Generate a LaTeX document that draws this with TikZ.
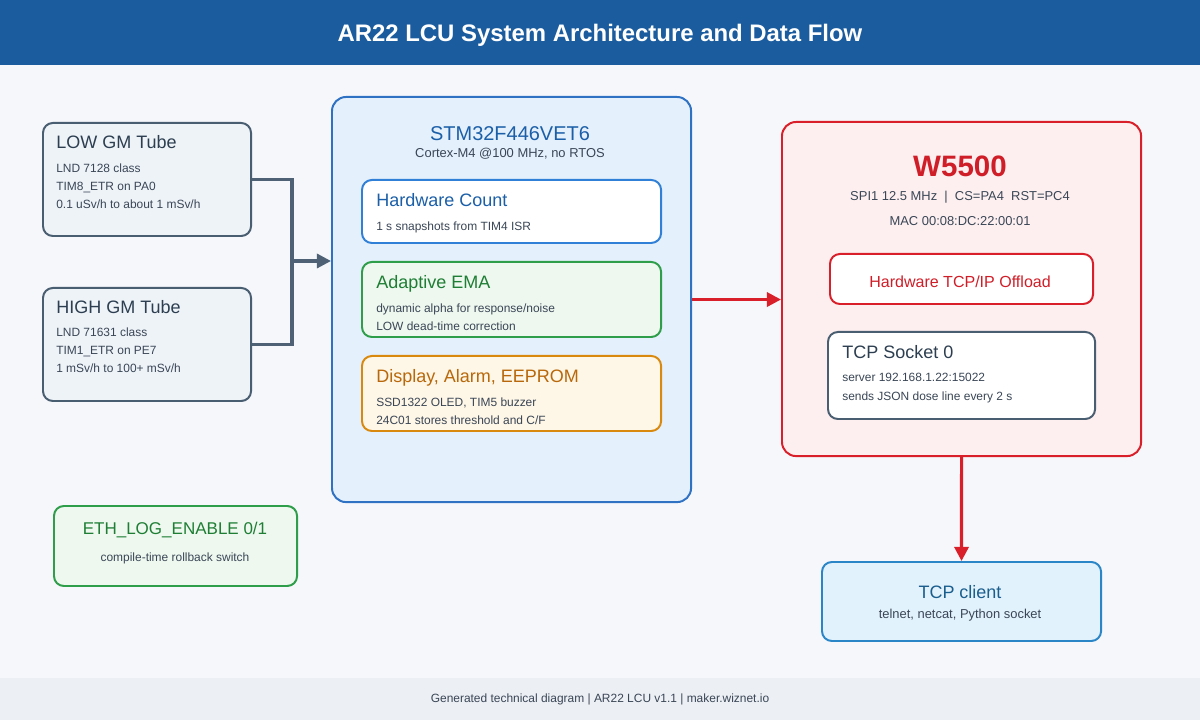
\documentclass[tikz,border=0pt]{standalone}
\usepackage{fontspec}
\setmainfont{Liberation Sans}
\usetikzlibrary{arrows.meta}

\definecolor{pagebg}{HTML}{F5F7FB}
\definecolor{barblue}{HTML}{1A5C9E}
\definecolor{footbg}{HTML}{ECEFF4}
\definecolor{ink}{HTML}{3A4656}
\definecolor{slate}{HTML}{4A5E72}
\definecolor{slatefill}{HTML}{EEF3F8}
\definecolor{slatetext}{HTML}{2C3E50}
\definecolor{wire}{HTML}{4F6275}
\definecolor{mcublue}{HTML}{2F72C4}
\definecolor{mcufill}{HTML}{E4F0FC}
\definecolor{mcutext}{HTML}{1B5FA8}
\definecolor{hwblue}{HTML}{2F80D6}
\definecolor{emagreen}{HTML}{2E9E4A}
\definecolor{emafill}{HTML}{EEF8EF}
\definecolor{ematext}{HTML}{1E7E34}
\definecolor{disporange}{HTML}{D98A0E}
\definecolor{dispfill}{HTML}{FEF6E6}
\definecolor{disptext}{HTML}{B8680A}
\definecolor{wizred}{HTML}{D9202A}
\definecolor{wizfill}{HTML}{FDEFEF}
\definecolor{wiztext}{HTML}{D01E28}
\definecolor{clientblue}{HTML}{2B86C8}
\definecolor{clientfill}{HTML}{E2F2FC}
\definecolor{clienttext}{HTML}{1A5E8E}

\begin{document}
\begin{tikzpicture}
  [x=0.025cm, y=-0.025cm,
   box/.style = {draw, line width=1.4pt, rounded corners=7pt, anchor=north west, inner sep=0pt},
   bigbox/.style = {box, rounded corners=10pt},
   head/.style = {font=\fontsize{12.8}{15}\selectfont, inner sep=0pt, anchor=mid west},
   body/.style = {font=\fontsize{8.5}{10}\selectfont, text=ink, inner sep=0pt, anchor=mid west},
   feed/.style = {line width=2.2pt, draw=wire},
   link/.style = {line width=2.2pt, draw=wizred},
   tip/.style = {-{Triangle[length=10pt, width=10pt]}}]

% Page, title bar and footer
\fill[pagebg] (0,0) rectangle (1200,720);
\fill[barblue] (0,0) rectangle (1200,65);
\fill[footbg] (0,678) rectangle (1200,720);
\node (title) at (600,35) [text=white, font=\bfseries\fontsize{17}{20}\selectfont]
  {AR22 LCU System Architecture and Data Flow};
\node (footer) at (600,699) [text=ink, font=\fontsize{8.5}{10}\selectfont]
  {Generated technical diagram | AR22 LCU v1.1 | maker.wiznet.io};

% GM tubes
\node[box, draw=slate, fill=slatefill, minimum width=5.2cm, minimum height=2.825cm] (low) at (42,122) {};
\node[head, text=slatetext] (lowhead) at (56,145) {LOW GM Tube};
\node[body] (lowa) at (56,169) {LND 7128 class};
\node[body] (lowb) at (56,187) {TIM8\_ETR on PA0};
\node[body] (lowc) at (56,205) {0.1 uSv/h to about 1 mSv/h};

\node[box, draw=slate, fill=slatefill, minimum width=5.2cm, minimum height=2.825cm] (high) at (42,287) {};
\node[head, text=slatetext] (highhead) at (56,310) {HIGH GM Tube};
\node[body] (higha) at (56,333) {LND 71631 class};
\node[body] (highb) at (56,351) {TIM1\_ETR on PE7};
\node[body] (highc) at (56,369) {1 mSv/h to 100+ mSv/h};

% MCU
\node[bigbox, draw=mcublue, fill=mcufill, minimum width=8.975cm, minimum height=10.125cm] (mcu) at (331,96) {};
\node (mcuhead) at (510,134) [text=mcutext, inner sep=0pt, font=\fontsize{14.2}{16}\selectfont] {STM32F446VET6};
\node (mcusub) at (510,154) [text=ink, inner sep=0pt, font=\fontsize{9.2}{11}\selectfont] {Cortex-M4 @100 MHz, no RTOS};

\node[box, draw=hwblue, fill=white, minimum width=7.475cm, minimum height=1.575cm] (count) at (361,179) {};
\node[head, text=mcutext] (counthead) at (376,203) {Hardware Count};
\node[body] (counta) at (376,227) {1 s snapshots from TIM4 ISR};

\node[box, draw=emagreen, fill=emafill, minimum width=7.475cm, minimum height=1.875cm] (ema) at (361,261) {};
\node[head, text=ematext] (emahead) at (376,285) {Adaptive EMA};
\node[body] (emaa) at (376,309) {dynamic alpha for response/noise};
\node[body] (emab) at (376,327) {LOW dead-time correction};

\node[box, draw=disporange, fill=dispfill, minimum width=7.475cm, minimum height=1.875cm] (disp) at (361,355) {};
\node[head, text=disptext] (disphead) at (376,379) {Display, Alarm, EEPROM};
\node[body] (dispa) at (376,403) {SSD1322 OLED, TIM5 buzzer};
\node[body] (dispb) at (376,421) {24C01 stores threshold and C/F};

% W5500
\node[bigbox, draw=wizred, fill=wizfill, minimum width=8.975cm, minimum height=8.35cm] (wiz) at (781,121) {};
\node (wizhead) at (960,166) [text=wiztext, inner sep=0pt, font=\bfseries\fontsize{21}{24}\selectfont] {W5500};
\node (wizspi) at (960,197) [text=ink, inner sep=0pt, font=\fontsize{9.2}{11}\selectfont]
  {SPI1 12.5 MHz \ | \ CS=PA4 \ RST=PC4};
\node (wizmac) at (960,221) [text=ink, inner sep=0pt, font=\fontsize{9.2}{11}\selectfont] {MAC 00:08:DC:22:00:01};

\node[box, draw=wizred, fill=white, minimum width=6.575cm, minimum height=1.25cm] (offload) at (829,253) {};
\node (offloadtext) at (960,282) [text=wiztext, inner sep=0pt, font=\fontsize{11.4}{13}\selectfont] {Hardware TCP/IP Offload};

\node[box, draw=slate, fill=white, minimum width=6.675cm, minimum height=2.175cm] (socket) at (827,331) {};
\node[head, text=slatetext] (sockethead) at (842,355) {TCP Socket 0};
\node[body] (socketa) at (842,378) {server 192.168.1.22:15022};
\node[body] (socketb) at (842,397) {sends JSON dose line every 2 s};

% Client
\node[box, draw=clientblue, fill=clientfill, minimum width=6.975cm, minimum height=1.975cm] (client) at (821,561) {};
\node (clienthead) at (960,592) [text=clienttext, inner sep=0pt, font=\fontsize{12.8}{15}\selectfont] {TCP client};
\node (clienta) at (960,615) [text=ink, inner sep=0pt, font=\fontsize{9.2}{11}\selectfont] {telnet, netcat, Python socket};

% Build switch
\node[box, draw=emagreen, fill=emafill, minimum width=6.075cm, minimum height=2.0cm] (eth) at (53,505) {};
\node (ethhead) at (175,530) [text=ematext, inner sep=0pt, font=\fontsize{12.1}{14}\selectfont] {ETH\_LOG\_ENABLE 0/1};
\node (etha) at (175,558) [text=ink, inner sep=0pt, font=\fontsize{8.5}{10}\selectfont] {compile-time rollback switch};

% Connectors
\coordinate (join) at (292,261);
\draw[feed] (low.east) -| (join);
\draw[feed] (high.east) -| (join);
\draw[feed, tip] (join) -- (join -| mcu.west);
\draw[link, tip] (mcu.east) -- (mcu.east -| wiz.west);
\draw[link, tip] (wiz.south) -- (client.north);

\end{tikzpicture}
\end{document}
